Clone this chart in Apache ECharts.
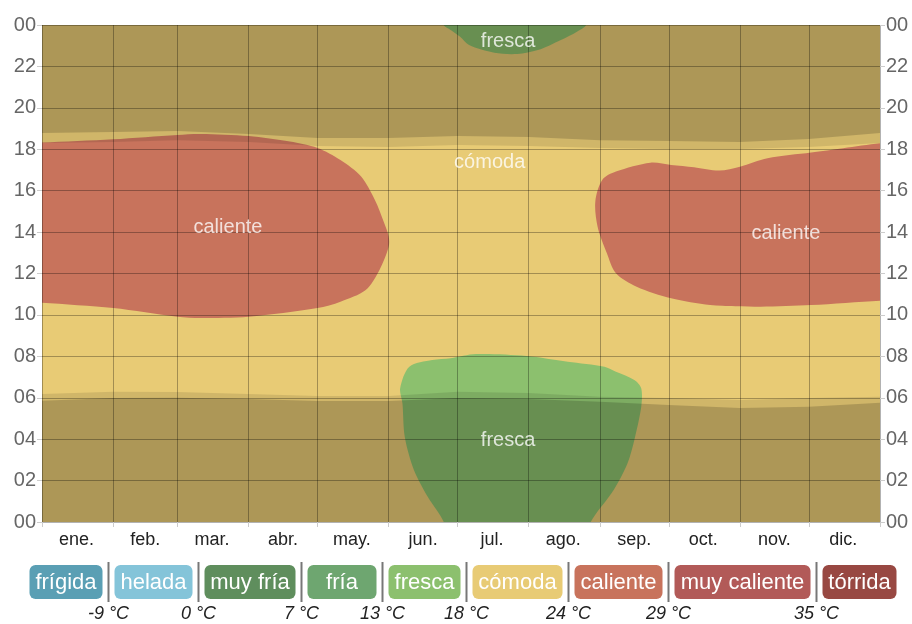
<!DOCTYPE html>
<html>
<head>
<meta charset="utf-8">
<script src="https://cdn.jsdelivr.net/npm/echarts@6/dist/echarts.min.js"></script>
<style>
  html, body { margin: 0; padding: 0; background: #fff; }
  #chart { width: 912px; height: 624px; }
</style>
</head>
<body>
<div id="chart"></div>
<script>
// ---------- data ----------
const months = ['ene.', 'feb.', 'mar.', 'abr.', 'may.', 'jun.', 'jul.', 'ago.', 'sep.', 'oct.', 'nov.', 'dic.'];
const monthStartDays = [0, 31, 59, 90, 120, 151, 181, 212, 243, 273, 304, 334, 365];
const monthMidDays = [15, 45, 74, 105, 135, 166, 196, 227, 258, 288, 319, 349];
const hourTicks = [0, 2, 4, 6, 8, 10, 12, 14, 16, 18, 20, 22, 24];

// day/night boundaries (hours) at month starts
const edgeDays = [0, 31, 59, 90, 120, 151, 181, 212, 243, 273, 304, 334, 365];
const eveningTwilightStart = [18.30, 18.35, 18.44, 18.35, 18.16, 18.11, 18.20, 18.16, 18.06, 18.01, 18.01, 18.11, 18.30];
const eveningNightStart = [18.78, 18.83, 18.88, 18.74, 18.54, 18.54, 18.64, 18.59, 18.44, 18.40, 18.35, 18.49, 18.78];
const morningTwilightEnd = [6.18, 6.29, 6.28, 6.18, 6.08, 6.08, 6.29, 6.23, 6.05, 5.99, 5.89, 5.99, 6.05];
const morningNightEnd = [5.86, 5.99, 6.00, 5.94, 5.84, 5.84, 5.99, 5.94, 5.81, 5.65, 5.51, 5.57, 5.76];

// temperature regions: outline as [day, hour]
const calienteEarly = [[0, 18.32], [30.5, 18.48], [58.8, 18.69], [68.8, 18.74], [89.7, 18.64], [108, 18.37], [119.8, 18.06], [129.8, 17.48], [138.5, 16.68], [145, 15.55], [149.4, 14.45], [150.7, 13.79], [150.7, 13.29], [147.2, 12.17], [140.7, 11.2], [129.8, 10.64], [119.8, 10.33], [89.7, 9.91], [68.8, 9.85], [58.8, 9.91], [30.5, 10.33], [0, 10.59]];
const calienteLate = [[241.3, 15.47], [244.4, 16.52], [250.3, 16.92], [264.8, 17.35], [273.5, 17.24], [283.5, 17.13], [295.3, 16.97], [304, 17.16], [315.6, 17.57], [334.5, 17.84], [348.9, 18.05], [365, 18.29], [365, 10.69], [334.5, 10.48], [312.7, 10.4], [290.9, 10.48], [273.5, 10.8], [259, 11.36], [250.3, 12.01], [245.9, 12.99], [242.2, 14.26]];
const frescaMorning = [[174.8, 0], [167.6, 1.22], [161.7, 2.51], [158.1, 4.12], [156.7, 5.73], [155.9, 6.46], [160.3, 7.5], [170.4, 7.82], [177.7, 7.91], [189.3, 8.11], [211.1, 8.02], [228.5, 7.74], [244.5, 7.5], [250.3, 7.26], [257.5, 6.86], [260.8, 6.46], [260.5, 5.57], [258.3, 3.96], [254.7, 2.83], [248.8, 1.55], [238.7, 0]];
const frescaNight = [[174.6, 24], [177.7, 23.76], [182, 23.44], [186.4, 23.03], [196.6, 22.66], [206.8, 22.6], [215.5, 22.79], [225.6, 23.28], [232.9, 23.68], [237.2, 24]];

// region labels: [text, day, hour]
const regionLabels = [['fresca', 203.4, 23.2], ['cómoda', 195.1, 17.38], ['caliente', 80.6, 14.2], ['caliente', 323.6, 13.91], ['fresca', 203.4, 3.96]];

// legend
const bandNames = ['frígida', 'helada', 'muy fría', 'fría', 'fresca', 'cómoda', 'caliente', 'muy caliente', 'tórrida'];
const bandColors = ['#5a9fb4', '#84c4d9', '#5f8e5d', '#6ea670', '#8cc06e', '#e8cb75', '#c8735c', '#b25a58', '#984842'];
const bandThresholds = ['-9 °C', '0 °C', '7 °C', '13 °C', '18 °C', '24 °C', '29 °C', '35 °C'];

// ---------- build ----------
const FONT = '"Liberation Sans", Arial, sans-serif';
const C = {};
bandNames.forEach((n, i) => C[n] = bandColors[i]);

const dayCats = [];
for (let d = 0; d <= 365; d++) dayCats.push(String(d));

function curveTo(days, hours, closeHour) {
  const pts = days.map((d, i) => [d, hours[i]]);
  pts.push([365, closeHour], [0, closeHour]);
  return pts;
}

// pixel-space helper: where two consecutive outline points lie on the same plot edge,
// route the outline a little outside the plot so smoothing is clipped away there.
function padEdges(px, rect) {
  const out = [];
  const n = px.length, e = 1, P = 12;
  const side = p => {
    if (Math.abs(p[0] - rect.x) < e) return 'l';
    if (Math.abs(p[0] - (rect.x + rect.width)) < e) return 'r';
    if (Math.abs(p[1] - rect.y) < e) return 't';
    if (Math.abs(p[1] - (rect.y + rect.height)) < e) return 'b';
    return null;
  };
  const push = (p, s) => {
    if (s === 'l') return [p[0] - P, p[1]];
    if (s === 'r') return [p[0] + P, p[1]];
    if (s === 't') return [p[0], p[1] - P];
    return [p[0], p[1] + P];
  };
  for (let i = 0; i < n; i++) {
    const a = px[i], b = px[(i + 1) % n];
    out.push(a);
    const sa = side(a), sb = side(b);
    if (sa && sa === sb) { out.push(push(a, sa), push(b, sb)); }
  }
  return out;
}

const shapes = [
  { points: [[0, 0], [365, 0], [365, 24], [0, 24]], fill: C['cómoda'], smooth: 0 },
  { points: calienteEarly, fill: C['caliente'], smooth: 0.3 },
  { points: calienteLate, fill: C['caliente'], smooth: 0.3 },
  { points: frescaMorning, fill: C['fresca'], smooth: 0.3 },
  { points: frescaNight, fill: C['fresca'], smooth: 0.3 },
  { points: curveTo(edgeDays, eveningTwilightStart, 24), fill: 'rgba(0,0,0,0.10)', smooth: 0 },
  { points: curveTo(edgeDays, eveningNightStart, 24), fill: 'rgba(0,0,0,0.17)', smooth: 0 },
  { points: curveTo(edgeDays, morningTwilightEnd, 0), fill: 'rgba(0,0,0,0.10)', smooth: 0 },
  { points: curveTo(edgeDays, morningNightEnd, 0), fill: 'rgba(0,0,0,0.17)', smooth: 0 }
];

const gridLine = { color: 'rgba(0,0,0,0.3)', width: 1 };

// legend graphics
const measureCtx = document.createElement('canvas').getContext('2d');
measureCtx.font = '22px ' + FONT;
const pillH = 34, pillY = 565, gap = 12;
const widths = bandNames.map(n => Math.max(69, Math.round(measureCtx.measureText(n).width + 12)));
const totalW = widths.reduce((a, b) => a + b, 0) + gap * (bandNames.length - 1);
let cx = 463 - totalW / 2;
const graphics = [];
bandNames.forEach((n, i) => {
  graphics.push({
    type: 'rect',
    shape: { x: cx, y: pillY, width: widths[i], height: pillH, r: 6 },
    style: { fill: bandColors[i] }
  });
  graphics.push({
    type: 'text',
    style: { text: n, x: cx + widths[i] / 2, y: pillY + pillH / 2 + 1, fill: '#ffffff', font: '22px ' + FONT, align: 'center', verticalAlign: 'middle' }
  });
  cx += widths[i];
  if (i < bandNames.length - 1) {
    const sx = cx + gap / 2;
    graphics.push({
      type: 'line',
      shape: { x1: sx, y1: 562, x2: sx, y2: 602 },
      style: { stroke: '#777', lineWidth: 2 }
    });
    graphics.push({
      type: 'text',
      style: { text: bandThresholds[i], x: sx, y: 614, fill: '#222', font: 'italic 18px ' + FONT, align: 'center', verticalAlign: 'middle' }
    });
    cx += gap;
  }
});

const chart = echarts.init(document.getElementById('chart'), null, { renderer: 'canvas' });
chart.setOption({
  animation: false,
  grid: { left: 42, right: 32, top: 25, bottom: 102, containLabel: false },
  xAxis: {
    type: 'category',
    data: dayCats,
    boundaryGap: false,
    z: 5,
    axisLine: { show: false },
    axisTick: {
      show: true, length: 5,
      interval: (idx) => monthStartDays.indexOf(idx) >= 0,
      lineStyle: { color: '#cccccc' }
    },
    axisLabel: {
      interval: (idx) => monthMidDays.indexOf(idx) >= 0,
      formatter: (val, idx) => months[monthMidDays.indexOf(Number(val))],
      color: '#222', fontSize: 18, fontFamily: FONT, margin: 9
    },
    splitLine: {
      show: true,
      interval: (idx) => monthStartDays.indexOf(idx) >= 0,
      lineStyle: gridLine
    }
  },
  yAxis: [
    {
      type: 'value', min: 0, max: 24, interval: 2, position: 'left', z: 5,
      axisLine: { show: false },
      axisTick: { show: true, length: 5, lineStyle: { color: '#cccccc' } },
      axisLabel: { formatter: v => String(v % 24).padStart(2, '0'), color: '#666', fontSize: 20, fontFamily: FONT, margin: 6 },
      splitLine: { show: true, lineStyle: gridLine }
    },
    {
      type: 'value', min: 0, max: 24, interval: 2, position: 'right', z: 5,
      axisLine: { show: false },
      axisTick: { show: true, length: 5, lineStyle: { color: '#cccccc' } },
      axisLabel: { formatter: v => String(v % 24).padStart(2, '0'), color: '#666', fontSize: 20, fontFamily: FONT, margin: 6 },
      splitLine: { show: false }
    }
  ],
  series: [
    {
      type: 'custom',
      clip: true,
      z: 2,
      data: shapes.map((s, i) => [i, 0]),
      renderItem: (params, api) => {
        const s = shapes[params.dataIndex];
        let pts = s.points.map(p => api.coord(p));
        if (s.smooth) pts = padEdges(pts, params.coordSys);
        return {
          type: 'polygon',
          shape: { points: pts, smooth: s.smooth },
          style: { fill: s.fill }
        };
      }
    },
    {
      type: 'custom',
      z: 8,
      data: regionLabels.map((l, i) => [l[1], l[2]]),
      renderItem: (params, api) => {
        const l = regionLabels[params.dataIndex];
        const p = api.coord([l[1], l[2]]);
        return {
          type: 'text',
          style: { text: l[0], x: p[0], y: p[1], fill: 'rgba(255,255,255,0.78)', font: '20px ' + FONT, align: 'center', verticalAlign: 'middle' }
        };
      }
    }
  ],
  graphic: graphics
});
</script>
</body>
</html>
